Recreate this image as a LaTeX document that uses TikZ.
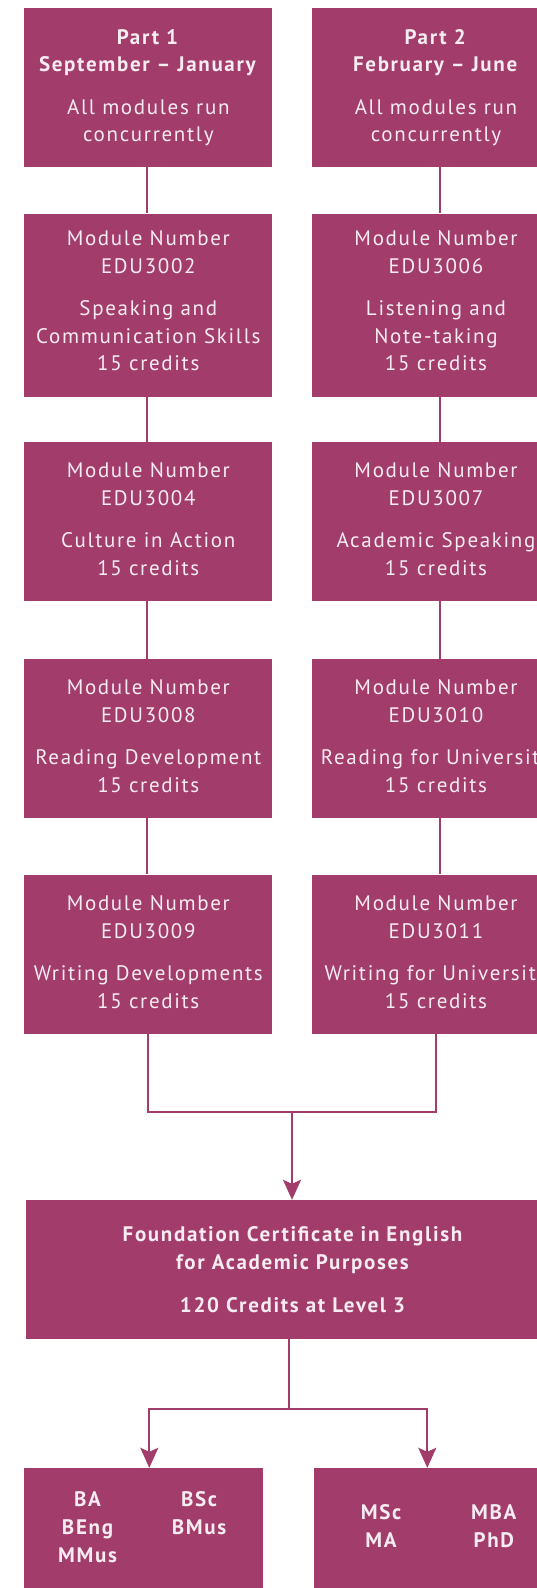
\documentclass[tikz,border=0pt]{standalone}
\usepackage{fontspec}
\setmainfont{PT Sans}[LetterSpace=8]
\usetikzlibrary{arrows.meta}
\definecolor{plum}{HTML}{A23C6B}
\definecolor{paper}{HTML}{F7ECF1}
\tikzset{
  box/.style={fill=plum, inner sep=0pt},
  colbox/.style={box, minimum width=248pt},
  boxtext/.style={text=paper, inner sep=0pt, align=center,
    font=\fontsize{21}{27.7}\selectfont},
  link/.style={draw=plum, line width=2pt},
  arrowlink/.style={link, -{Stealth[length=20pt, width=18pt, inset=4pt]}},
  degree/.style={text=paper, align=center, inner sep=0pt,
    font=\fontsize{21}{28}\selectfont\bfseries}
}
\newcommand{\gap}{\\[14.5pt]}
\begin{document}
\begin{tikzpicture}[x=1pt, y=-1pt]
\useasboundingbox (0,0) rectangle (537,1588);
\clip (0,0) rectangle (537,1588);

% Part 1 column
\node[colbox, minimum height=159pt] (p1) at (148.3,87.6) {};
\node[colbox, minimum height=183pt] (l1) at (148.3,305) {};
\node[colbox, minimum height=159pt] (l2) at (148.3,521.3) {};
\node[colbox, minimum height=159pt] (l3) at (148.3,738.2) {};
\node[colbox, minimum height=159pt] (l4) at (148.3,954) {};
\node[boxtext] (p1t) at (p1.center)
  {\textbf{Part 1}\\\textbf{September – January}\gap All modules run\\concurrently};
\node[boxtext] (l1t) at ([yshift=4pt]l1.center)
  {Module Number\\EDU3002\gap Speaking and\\Communication Skills\\15 credits};
\node[boxtext] (l2t) at ([yshift=2pt]l2.center)
  {Module Number\\EDU3004\gap Culture in Action\\15 credits};
\node[boxtext] (l3t) at ([yshift=2pt]l3.center)
  {Module Number\\EDU3008\gap Reading Development\\15 credits};
\node[boxtext] (l4t) at ([yshift=2pt]l4.center)
  {Module Number\\EDU3009\gap Writing Developments\\15 credits};

% Part 2 column
\node[colbox, minimum height=159pt] (p2) at (436,87.6) {};
\node[colbox, minimum height=183pt] (r1) at (436,305) {};
\node[colbox, minimum height=159pt] (r2) at (436,521.3) {};
\node[colbox, minimum height=159pt] (r3) at (436,738.2) {};
\node[colbox, minimum height=159pt] (r4) at (436,954) {};
\node[boxtext] (p2t) at (p2.center)
  {\textbf{Part 2}\\\textbf{February – June}\gap All modules run\\concurrently};
\node[boxtext] (r1t) at ([yshift=4pt]r1.center)
  {Module Number\\EDU3006\gap Listening and\\Note-taking\\15 credits};
\node[boxtext] (r2t) at ([yshift=2pt]r2.center)
  {Module Number\\EDU3007\gap Academic Speaking\\15 credits};
\node[boxtext] (r3t) at ([yshift=2pt]r3.center)
  {Module Number\\EDU3010\gap Reading for University\\15 credits};
\node[boxtext] (r4t) at ([yshift=2pt]r4.center)
  {Module Number\\EDU3011\gap Writing for University\\15 credits};

% Certificate
\node[box, minimum width=534pt, minimum height=139pt] (cert) at (292.5,1269.5) {};
\node[boxtext, font=\fontsize{21}{28}\selectfont\bfseries] (certt) at (cert.center)
  {Foundation Certificate in English\\for Academic Purposes\gap 120 Credits at Level 3};

% Degree outcomes
\node[box, minimum width=239pt, minimum height=130pt] (ug) at (143.8,1533) {};
\node[box, minimum width=246pt, minimum height=130pt] (pg) at (437.3,1533) {};
\node[degree] (ugA) at (87.5,1527) {BA\\BEng\\MMus};
\node[degree] (ugB) at (199,1513.5) {BSc\\BMus};
\node[degree] (pgA) at (381,1526) {MSc\\MA};
\node[degree] (pgB) at (493.8,1526) {MBA\\PhD};

% Connectors down each column
\foreach \a/\b in {p1/l1, l1/l2, l2/l3, l3/l4}
  \draw[link] ([xshift=-1.5pt]\a.south) -- ([xshift=-1.5pt]\b.north);
\foreach \a/\b in {p2/r1, r1/r2, r2/r3, r3/r4}
  \draw[link] ([xshift=4pt]\a.south) -- ([xshift=4pt]\b.north);

% Merge into the certificate
\coordinate (join) at (292,1112.3);
\draw[link] ([xshift=-0.6pt]l4.south) |- (join) -| (r4.south);
\draw[arrowlink] (join) -- (join |- cert.north);

% Split towards the degrees
\coordinate (split) at (289,1409);
\draw[link] (cert.south -| split) -- (split);
\draw[arrowlink] (split) -| ([xshift=5.5pt]ug.north);
\draw[arrowlink] (split) -| ([xshift=-10pt]pg.north);
\end{tikzpicture}
\end{document}
